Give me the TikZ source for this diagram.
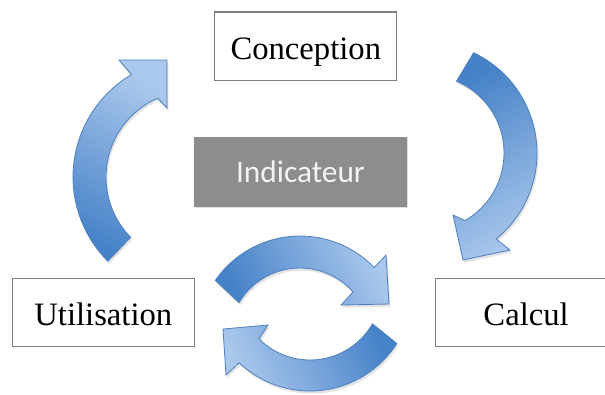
\documentclass[tikz,border=0pt]{standalone}
\usepackage{fontspec}
\setmainfont{Liberation Serif}
\newfontfamily\calib{Carlito}
\usetikzlibrary{calc,shadows}
\definecolor{arrdark}{RGB}{70,130,200}
\definecolor{arrlight}{RGB}{170,200,236}
\definecolor{arrline}{RGB}{78,128,192}
\definecolor{boxline}{RGB}{127,127,127}
\definecolor{indfill}{RGB}{141,141,141}
\definecolor{indtext}{RGB}{243,243,243}
\begin{document}
\begin{tikzpicture}[x=0.75pt,y=0.75pt,
  labelbox/.style={draw=boxline, line width=0.8pt, fill=white, inner sep=0pt,
    minimum width=136.5pt, minimum height=51.3pt,
    text height=22.5pt, text depth=3pt,
    font=\fontsize{24.5pt}{28pt}\selectfont},
  centerbox/.style={fill=indfill, inner sep=0pt,
    minimum width=160pt, minimum height=52.5pt,
    text height=18pt, text depth=1.5pt, text=indtext,
    font=\calib\fontsize{23.5pt}{27pt}\selectfont,
    drop shadow={opacity=0.25, shadow xshift=0.6pt, shadow yshift=-1.2pt}},
  blockarrow/.style={draw=arrline, line width=0.6pt, line join=miter,
    drop shadow={opacity=0.22, shadow xshift=1pt, shadow yshift=-2pt}}]
\clip (0,0) rectangle (605,-394);
\fill[white] (0,0) rectangle (605,-394);

% boxes
\node[labelbox] (conc) at (305.8,-46.2) {Conception};
\node[labelbox] (util) at (103.3,-312.3) {Utilisation};
\node[labelbox] (calc) at (526.1,-312.3) {Calcul};
\node[centerbox] (ind) at (300.5,-171.7) {Indicateur};

% left arrow: Utilisation -> Conception
\coordinate (lc) at (192,-177);
\path[blockarrow, top color=arrlight, bottom color=arrdark, shading angle=-30]
  ($(lc)+(225:119)$) arc[start angle=225, end angle=120.6, radius=119]
  -- (119,-60) -- (167,-60) -- (167,-108)
  -- ($(lc)+(113.6:86)$) arc[start angle=113.6, end angle=224.5, radius=86]
  -- cycle;

% right arrow: Conception -> Calcul
\coordinate (rc) at (426,-153);
\path[blockarrow, top color=arrdark, bottom color=arrlight, shading angle=30]
  ($(rc)+(64.6:111)$) arc[start angle=64.6, end angle=-50.8, radius=111]
  -- (510,-250) -- (463,-260) -- (453,-215)
  -- ($(rc)+(-60:78)$) arc[start angle=-60, end angle=67, radius=78]
  -- cycle;

% top cycle arrow
\coordinate (tc) at (300,-339);
\path[blockarrow, top color=arrdark, bottom color=arrlight, shading angle=115]
  ($(tc)+(145.3:103)$) arc[start angle=145.3, end angle=43.9, radius=103]
  -- (386,-255) -- (389,-304) -- (341,-305)
  -- ($(tc)+(41.6:71)$) arc[start angle=41.6, end angle=149.2, radius=71]
  -- cycle;

% bottom cycle arrow
\coordinate (bc) at (310,-288);
\path[blockarrow, top color=arrdark, bottom color=arrlight, shading angle=-65]
  ($(bc)+(-32.6:103)$) arc[start angle=-32.6, end angle=-133.5, radius=103]
  -- (226,-375) -- (223,-329) -- (268,-325)
  -- ($(bc)+(-135:72)$) arc[start angle=-135, end angle=-29.8, radius=72]
  -- cycle;
\end{tikzpicture}
\end{document}
